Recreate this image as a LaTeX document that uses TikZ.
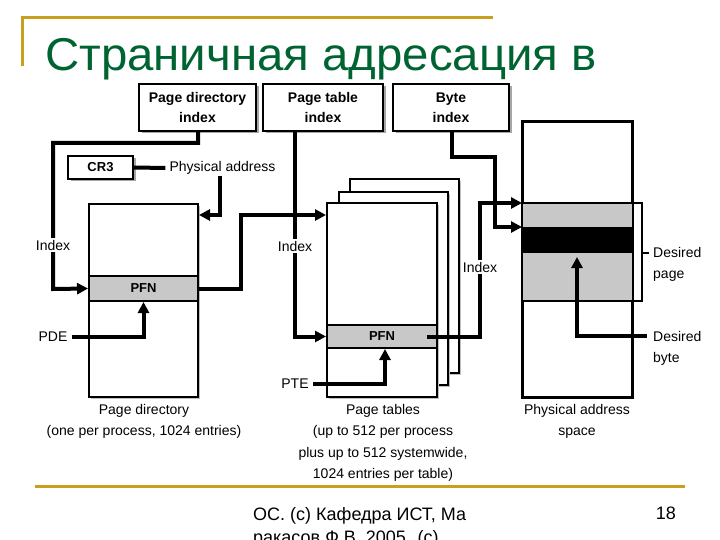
\documentclass[tikz,border=0pt]{standalone}
\usepackage{fontspec}
\setmainfont{Liberation Sans}
\newfontfamily\titlefont[FakeStretch=1.03]{Liberation Sans}
\usetikzlibrary{arrows.meta,shadows}
\definecolor{gold}{RGB}{200,160,30}
\definecolor{tgreen}{RGB}{0,100,50}
\definecolor{pfngray}{RGB}{200,200,200}
\begin{document}
\begin{tikzpicture}[x=1pt,y=-1pt,
  conn/.style={line width=4pt, line cap=butt, line join=miter},
  arr/.style={conn, -{Triangle[length=11pt,width=11pt]}},
  topbox/.style={draw, line width=2.2pt, fill=white, inner sep=0pt, align=center,
     font=\fontsize{14}{20}\selectfont\bfseries,
     drop shadow={shadow xshift=2.5pt, shadow yshift=-2.5pt, fill=black!35, opacity=1}},
  tbl/.style={draw, line width=2pt, fill=white, inner sep=0pt,
     drop shadow={shadow xshift=2pt, shadow yshift=-2pt, fill=black!25, opacity=1}},
  pfn/.style={draw, line width=2pt, fill=pfngray, inner sep=0pt, font=\fontsize{13}{15}\selectfont\bfseries},
  lbl/.style={inner ysep=1pt, inner xsep=4pt, font=\fontsize{14}{16}\selectfont},
  idx/.style={lbl, fill=white, inner sep=2pt},
  captext/.style={inner sep=0pt, align=center, anchor=north, font=\fontsize{14}{21.5}\selectfont},
  foottext/.style={anchor=base west, inner sep=0pt, font=\fontsize{18}{22}\selectfont}
]
\useasboundingbox (0,0) rectangle (720,540);
\clip (0,0) rectangle (720,540);
\fill[white] (0,0) rectangle (720,540);

% decorations
\draw[gold, line width=3pt] (22,66) -- (22,18) -- (493,18);
\draw[gold, line width=3pt] (35,486) -- (685,486);
\node[anchor=base west, inner sep=0pt, text=tgreen, font=\titlefont\fontsize{46}{50}\selectfont] (title) at (45,71) {Страничная адресация в};
\node[foottext] (foot1) at (253,520) {ОС. (с) Кафедра ИСТ, Ма};
\node[foottext] (foot2) at (253,543) {ракасов Ф.В. 2005. (с)};
\node[anchor=base east, inner sep=0pt, font=\fontsize{18}{22}\selectfont] (num) at (676,519) {18};

% top boxes
\node[topbox, minimum width=117, minimum height=47] (pdi) at (197.5,107.5) {Page directory\\index};
\node[topbox, minimum width=120, minimum height=47] (pti) at (323,107.5) {Page table\\index};
\node[topbox, minimum width=116, minimum height=47] (bi) at (451,107.5) {Byte\\index};
\node[topbox, minimum width=65, minimum height=23, font=\fontsize{13}{15}\selectfont\bfseries] (cr3) at (100.5,167.5) {CR3};
\node[lbl] (phys) at (222.5,168) {Physical address};

% page directory
\node[tbl, minimum width=109, minimum height=193] (pd) at (143.5,300.5) {};
\node[pfn, minimum width=109, minimum height=25] (pdpfn) at (143.5,288.5) {PFN};

% page tables
\node[tbl, minimum width=109, minimum height=194] (pt3) at (404.5,276) {};
\node[tbl, minimum width=109, minimum height=193] (pt2) at (393.5,288.5) {};
\node[tbl, minimum width=110, minimum height=194] (pt1) at (382,300) {};
\node[pfn, minimum width=110, minimum height=23] (ptpfn) at (382,336.5) {PFN};

% physical address space
\node[tbl, minimum width=109, minimum height=275] (pas) at (577.5,259.5) {};
\fill[pfngray] (523,203) rectangle (632,301);
\fill[black] (523,227) rectangle (632,253);
\draw[line width=2pt] (523,203) -- (632,203) (523,301) -- (632,301);
\draw[line width=2pt] (pas.north west) rectangle (pas.south east);

% labels
\node[lbl] (pde) at (53,337) {PDE};
\node[lbl] (pte) at (295,384) {PTE};
\node[lbl, anchor=west, align=left, font=\fontsize{14}{21}\selectfont, inner xsep=2pt] (dpage) at (651,264) {Desired\\page};
\node[lbl, anchor=west, align=left, font=\fontsize{14}{21}\selectfont, inner xsep=2pt] (dbyte) at (651,348) {Desired\\byte};

% connectors
\draw[arr] ([xshift=0.5pt]pdi.south) -- (198,143) -- (53,143) -- (53,289) -- (pdpfn.west);
\node[idx] (idx1) at (53,245) {Index};
\draw[conn] (cr3.east) -- (phys.west);
\draw[arr] ([xshift=-2.5pt]phys.south) -- (220,215) -- (pd.north east |- 0,215);
\draw[arr] (pde.east) -| (pdpfn.south);
\draw[arr] (pdpfn.east) -- (241,288.5) -- (241,215) -- (pt1.north west |- 0,215);
\draw[arr] ([xshift=-28pt]pti.south) -- (295,336.5) -- (ptpfn.west);
\node[idx] (idx2) at (295,246) {Index};
\draw[arr] (pte.east) -| ([xshift=3pt]ptpfn.south);
\draw[arr] ([xshift=-11pt]ptpfn.east) -- (480,336.5) -- (480,203) -- (pas.west |- 0,203);
\node[idx] (idx3) at (480,267) {Index};
\draw[arr] ([xshift=1pt]bi.south) -- (452,157) -- (495,157) -- (495,227) -- (pas.west |- 0,227);
\draw[arr] ([xshift=-4pt]dbyte.west |- 0,336) -- (577,336) -- (577,257);
\draw[line width=2pt] (634,203) -- (642,203) -- (642,301) -- (634,301);
\draw[line width=2pt] (642,253) -- (649,253);

% captions
\node[captext] (cap1) at (144,404) {Page directory\\(one per process, 1024 entries)};
\node[captext] (cap2) at (383,404) {Page tables\\(up to 512 per process\\plus up to 512 systemwide,\\1024 entries per table)};
\node[captext] (cap3) at (577,404) {Physical address\\space};
\end{tikzpicture}
\end{document}
